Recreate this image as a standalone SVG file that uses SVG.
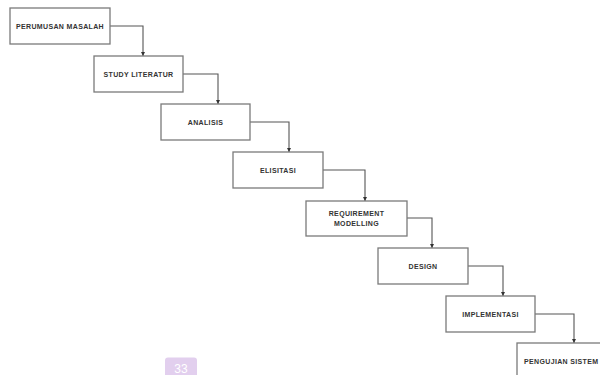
<svg xmlns="http://www.w3.org/2000/svg" width="600" height="375" viewBox="0 0 600 375">
<defs>
<marker id="arr" viewBox="0 0 6 6" refX="6" refY="3" markerWidth="4" markerHeight="4" orient="auto" markerUnits="userSpaceOnUse">
<path d="M0,0 L6,3 L0,6 z" fill="#333"/>
</marker>
<style>
.box{fill:#fff;stroke:#7a7a7a;stroke-width:1.3}
.lbl{font-family:"Liberation Sans",Arial,sans-serif;font-size:7px;font-weight:bold;fill:#333;text-anchor:middle;letter-spacing:0.35px}
.con{fill:none;stroke:#555;stroke-width:1.1;marker-end:url(#arr)}
</style>
</defs>
<rect width="600" height="375" fill="#fff"/>
<g id="connectors">
<path class="con" d="M110,26 H143 V56"/>
<path class="con" d="M183,74 H218 V104"/>
<path class="con" d="M250,122 H289 V152"/>
<path class="con" d="M323,170 H365 V201"/>
<path class="con" d="M407,218 H432 V248"/>
<path class="con" d="M468,266 H503 V296"/>
<path class="con" d="M535,314 H574 V343"/>
</g>
<g id="n1"><rect class="box" x="10" y="8" width="100" height="36"/><text class="lbl" x="60" y="28.5">PERUMUSAN MASALAH</text></g>
<g id="n2"><rect class="box" x="94" y="56" width="89" height="36"/><text class="lbl" x="138.5" y="76.5">STUDY LITERATUR</text></g>
<g id="n3"><rect class="box" x="161" y="104" width="89" height="36"/><text class="lbl" x="205.5" y="124.5">ANALISIS</text></g>
<g id="n4"><rect class="box" x="233" y="152" width="90" height="36"/><text class="lbl" x="278" y="172.5">ELISITASI</text></g>
<g id="n5"><rect class="box" x="306" y="201" width="101" height="35"/><text class="lbl" x="356.5" y="215.5">REQUIREMENT</text><text class="lbl" x="356.5" y="225.5">MODELLING</text></g>
<g id="n6"><rect class="box" x="378" y="248" width="90" height="36"/><text class="lbl" x="423" y="268.5">DESIGN</text></g>
<g id="n7"><rect class="box" x="446" y="296" width="89" height="36"/><text class="lbl" x="490.5" y="316.5">IMPLEMENTASI</text></g>
<g id="n8"><rect class="box" x="517" y="343" width="100" height="40"/><text class="lbl" x="524" y="363.5" style="text-anchor:start">PENGUJIAN SISTEM</text></g>
<g id="badge"><rect x="165" y="357.5" width="32" height="20" rx="3" fill="#e2cfee"/><text x="181" y="372.5" font-family="Liberation Sans,Arial,sans-serif" font-size="12" fill="#fff" text-anchor="middle">33</text></g>
</svg>
